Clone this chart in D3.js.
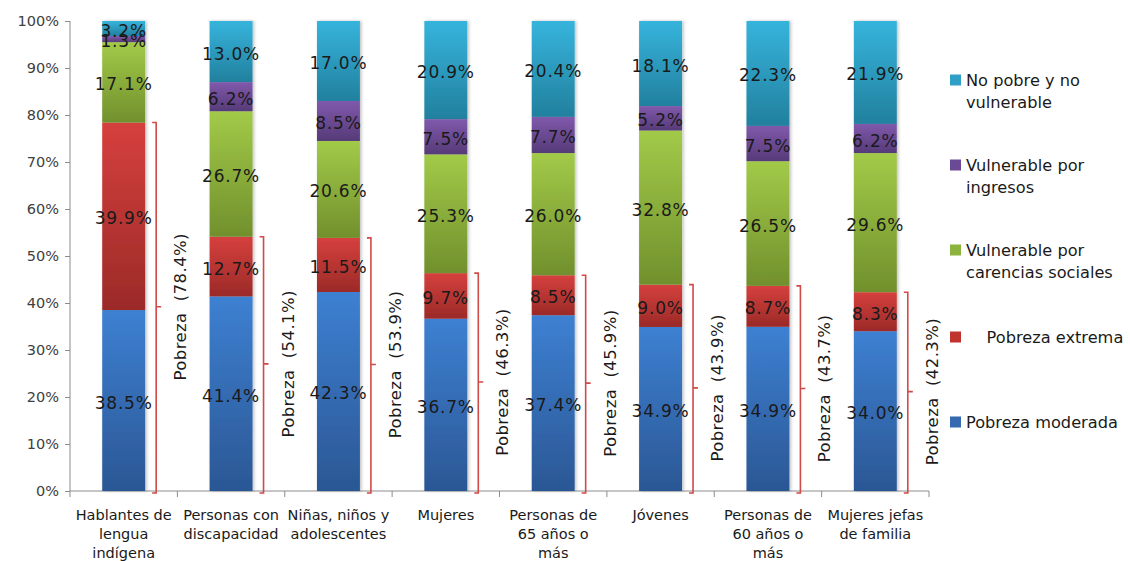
<!DOCTYPE html>
<html><head><meta charset="utf-8">
<script src="https://cdn.jsdelivr.net/npm/d3@7/dist/d3.min.js"></script>
<style>
html,body{margin:0;padding:0;background:#fff;}
svg{display:block;font-family:"DejaVu Sans",sans-serif;}
text{white-space:pre;}
</style></head><body>
<svg id="c" width="1130" height="561"></svg>
<script>
const categories = [
  "Hablantes de\nlengua\nindígena",
  "Personas con\ndiscapacidad",
  "Niñas, niños y\nadolescentes",
  "Mujeres",
  "Personas de\n65 años o\nmás",
  "Jóvenes",
  "Personas de\n60 años o\nmás",
  "Mujeres jefas\nde familia"
];
const pobrezaModerada = [38.5, 41.4, 42.3, 36.7, 37.4, 34.9, 34.9, 34.0];
const pobrezaExtrema = [39.9, 12.7, 11.5, 9.7, 8.5, 9.0, 8.7, 8.3];
const vulnerableCarencias = [17.1, 26.7, 20.6, 25.3, 26.0, 32.8, 26.5, 29.6];
const vulnerableIngresos = [1.3, 6.2, 8.5, 7.5, 7.7, 5.2, 7.5, 6.2];
const noPobre = [3.2, 13.0, 17.0, 20.9, 20.4, 18.1, 22.3, 21.9];
const pobrezaTotal = [78.4, 54.1, 53.9, 46.3, 45.9, 43.9, 43.7, 42.3];
const yTicks = [0, 10, 20, 30, 40, 50, 60, 70, 80, 90, 100];
const seriesNames = ["Pobreza moderada", "Pobreza extrema", "Vulnerable por carencias sociales", "Vulnerable por ingresos", "No pobre y no vulnerable"];
const legendLabels = ["No pobre y no\nvulnerable", "Vulnerable por\ningresos", "Vulnerable por\ncarencias sociales", "    Pobreza extrema", "Pobreza moderada"];

const seriesValues = [pobrezaModerada, pobrezaExtrema, vulnerableCarencias, vulnerableIngresos, noPobre];
const gradColors = [
  ["#3d80d2", "#2b5794"],
  ["#d5403d", "#9b2a28"],
  ["#a2ca48", "#71902d"],
  ["#8059ac", "#563a78"],
  ["#36b4dc", "#22809e"]
];
const legendColors = ["#2f9fc6", "#6a4a94", "#8cb43c", "#c0332f", "#3569b0"];

const svg = d3.select("#c");
const M = {left: 70, right: 929, top: 21, bottom: 491};

const defs = svg.append("defs");
gradColors.forEach((c, i) => {
  const g = defs.append("linearGradient").attr("id", "g" + i)
    .attr("x1", 0).attr("y1", 0).attr("x2", 0).attr("y2", 1);
  g.append("stop").attr("offset", "0%").attr("stop-color", c[0]);
  g.append("stop").attr("offset", "100%").attr("stop-color", c[1]);
});
const f = defs.append("filter").attr("id", "sh").attr("x", "-20%").attr("y", "-5%").attr("width", "140%").attr("height", "110%");
f.append("feDropShadow").attr("dx", 1.5).attr("dy", 0).attr("stdDeviation", 1.5).attr("flood-color", "#000").attr("flood-opacity", 0.25);

const x = d3.scaleBand().domain(d3.range(categories.length)).range([M.left, M.right]).paddingInner(0.6).paddingOuter(0.3);
const y = d3.scaleLinear().domain([0, 100]).range([M.bottom, M.top]);

// stack data normalized to 100
const rows = categories.map((c, i) => {
  const o = {i};
  const tot = d3.sum(seriesValues, s => s[i]);
  seriesValues.forEach((s, k) => { o["s" + k] = s[i] / tot * 100; o["v" + k] = s[i]; });
  return o;
});
const stack = d3.stack().keys(seriesValues.map((s, k) => "s" + k));
const stacked = stack(rows);

// axes
const yAxis = d3.axisLeft(y).tickValues(yTicks).tickFormat(d => d + "%").tickSize(5).tickPadding(6);
const gy = svg.append("g").attr("transform", `translate(${M.left},0)`).call(yAxis);
gy.selectAll("path,line").attr("stroke", "#8c8c8c");
gy.select(".domain").attr("d", `M0,${M.top}V${M.bottom}`);
gy.selectAll("text").attr("font-size", 14.5).attr("fill", "#404040").attr("font-family", "DejaVu Sans");

const xb = svg.append("g");
xb.append("line").attr("x1", M.left).attr("x2", M.right).attr("y1", M.bottom).attr("y2", M.bottom).attr("stroke", "#8c8c8c");
const step = x.step();
const bounds = d3.range(categories.length + 1).map(i => x(0) - x.step() * x.paddingOuter() + i * step);
xb.selectAll("line.tk").data(bounds).join("line").attr("class", "tk")
  .attr("x1", d => d).attr("x2", d => d).attr("y1", M.bottom).attr("y2", M.bottom + 6).attr("stroke", "#8c8c8c");

// bars
const bars = svg.append("g").attr("filter", "url(#sh)");
stacked.forEach((layer, k) => {
  bars.selectAll(null).data(layer).join("rect")
    .attr("x", d => x(d.data.i)).attr("width", x.bandwidth())
    .attr("y", d => y(d[1])).attr("height", d => y(d[0]) - y(d[1]))
    .attr("fill", `url(#g${k})`);
});

// value labels
const lab = svg.append("g").attr("font-size", 17).attr("fill", "#1a1a1a").attr("text-anchor", "middle").attr("letter-spacing", 0.8);
stacked.forEach((layer, k) => {
  lab.selectAll(null).data(layer).join("text")
    .attr("x", d => x(d.data.i) + x.bandwidth() / 2)
    .attr("y", d => (y(d[0]) + y(d[1])) / 2 + 8)
    .text(d => d.data["v" + k].toFixed(1) + "%");
});

// brackets
const br = svg.append("g").attr("stroke", "#d04a48").attr("stroke-width", 1.6).attr("fill", "none");
rows.forEach((r, i) => {
  const top = y(r.s0 + r.s1), bot = y(0) + 2;
  const bx = x(i) + x.bandwidth() + 11;
  const mid = (y(0) + top) / 2;
  br.append("path").attr("d", `M${bx - 4},${top}H${bx}V${bot}H${bx - 4}M${bx},${mid}H${bx + 5}`);
  svg.append("text")
    .attr("transform", `translate(${bx + 30},${mid}) rotate(-90)`)
    .attr("text-anchor", "middle").attr("font-size", 16.5).attr("fill", "#1a1a1a").attr("letter-spacing", 0.4)
    .text(`Pobreza  (${pobrezaTotal[i].toFixed(1)}%)`);
});

// category labels
const cl = svg.append("g").attr("font-size", 14.5).attr("fill", "#1a1a1a").attr("text-anchor", "middle");
categories.forEach((c, i) => {
  const t = cl.append("text").attr("x", x(i) + x.bandwidth() / 2).attr("y", 520);
  c.split("\n").forEach((ln, j) => t.append("tspan").attr("x", x(i) + x.bandwidth() / 2).attr("dy", j ? 19 : 0).text(ln));
});

// legend
const legY = [80, 165, 250, 337, 422];
const lg = svg.append("g").attr("font-size", 16.2).attr("fill", "#1a1a1a");
legendLabels.forEach((l, i) => {
  lg.append("rect").attr("x", 950).attr("y", legY[i] - 5.5).attr("width", 11).attr("height", 11).attr("fill", legendColors[i]);
  const t = lg.append("text").attr("x", 966).attr("y", legY[i] + 5.5);
  l.split("\n").forEach((ln, j) => t.append("tspan").attr("x", 966).attr("dy", j ? 22 : 0).text(ln));
});
</script>
</body></html>
